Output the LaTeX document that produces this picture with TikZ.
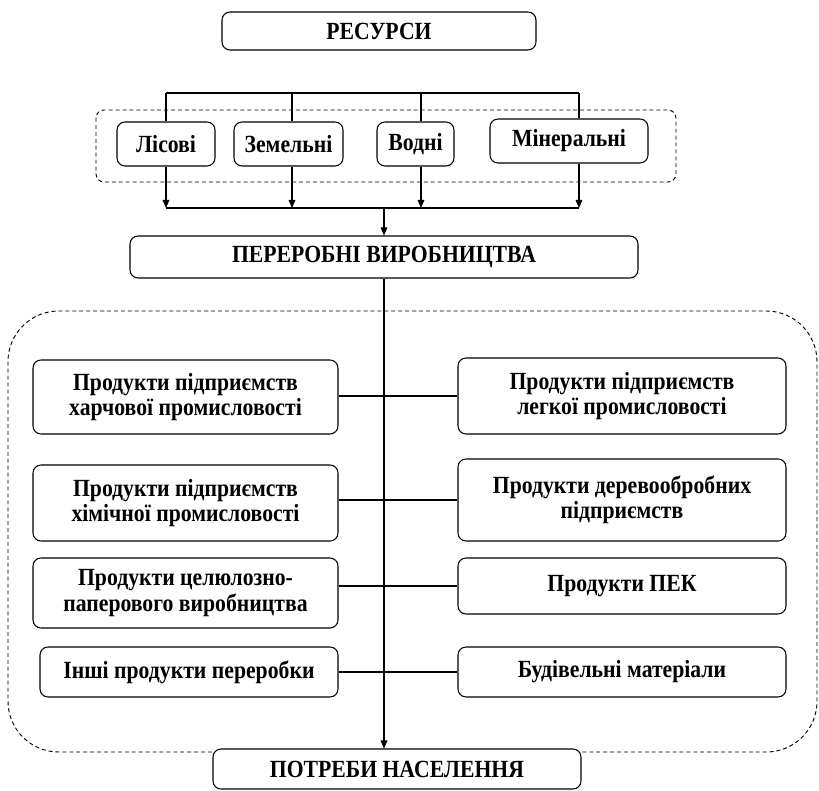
\documentclass[tikz,border=0pt]{standalone}
\usepackage{fontspec}
\setmainfont{Liberation Serif}[FakeStretch=0.88]
\usetikzlibrary{arrows.meta}
\begin{document}
\begin{tikzpicture}
        [x=0.75pt, y=-0.75pt,
        box/.style={draw=black, fill=white, rounded corners=6pt, line width=0.8pt,
            align=center, inner sep=0pt, font=\fontsize{18.5}{19}\selectfont\bfseries},
        line/.style={line width=0.8pt},
        arr/.style={line width=0.8pt, -{Triangle[length=6pt, width=5pt]}},
        group/.style={draw=black, line width=0.7pt, dash pattern=on 3pt off 2.2pt}]
    \useasboundingbox (0,0) rectangle (819,791);
    \draw[group, rounded corners=6pt] (96,110) rectangle (676,182);
    \draw[group, rounded corners=38pt] (8,311) rectangle (817,752);
    \node[box, minimum width=235.5pt, minimum height=28.5pt] (res) at (379,31) {РЕСУРСИ};
    \node[box, minimum width=73.5pt, minimum height=33pt] (les) at (166,144) {Лісові};
    \node[box, minimum width=81.75pt, minimum height=33pt] (zem) at (288.5,144) {Земельні};
    \node[box, minimum width=57.75pt, minimum height=33pt] (vod) at (415.5,144) {Водні};
    \node[box, minimum width=118.5pt, minimum height=33pt] (min) at (569,141) {Мінеральні};
    \node[box, minimum width=381pt, minimum height=31.5pt] (per) at (384,257) {ПЕРЕРОБНІ ВИРОБНИЦТВА};
    \node[box, minimum width=228.75pt, minimum height=55.5pt] (l1) at (185.5,397) {Продукти підприємств\\харчової промисловості};
    \node[box, minimum width=228.75pt, minimum height=57pt] (l2) at (185.5,503) {Продукти підприємств\\хімічної промисловості};
    \node[box, minimum width=228.75pt, minimum height=52.5pt] (l3) at (185.5,593) {Продукти целюлозно-\\паперового виробництва};
    \node[box, minimum width=223.5pt, minimum height=37.5pt] (l4) at (189,672) {Інші продукти переробки};
    \node[box, minimum width=246pt, minimum height=57pt] (r1) at (622,396) {Продукти підприємств\\легкої промисловості};
    \node[box, minimum width=246pt, minimum height=61.5pt] (r2) at (622,500) {Продукти деревообробних\\підприємств};
    \node[box, minimum width=246pt, minimum height=42pt] (r3) at (622,586) {Продукти ПЕК};
    \node[box, minimum width=246pt, minimum height=37.5pt] (r4) at (622,672) {Будівельні матеріали};
    \node[box, minimum width=276pt, minimum height=30pt] (pot) at (397,769) {ПОТРЕБИ НАСЕЛЕННЯ};
    \coordinate (t1) at (166,93);
    \coordinate (t2) at (292,93);
    \coordinate (t3) at (421,93);
    \coordinate (t4) at (579,93);
    \coordinate (b1) at (166,208);
    \coordinate (b2) at (292,208);
    \coordinate (b3) at (421,208);
    \coordinate (b4) at (579,208);
    \draw[line] (t1) -- (t4);
    \draw[line] (t1) -- (t1 |- les.north);
    \draw[line] (t2) -- (t2 |- zem.north);
    \draw[line] (t3) -- (t3 |- vod.north);
    \draw[line] (t4) -- (t4 |- min.north);
    \draw[arr] (b1 |- les.south) -- (b1);
    \draw[arr] (b2 |- zem.south) -- (b2);
    \draw[arr] (b3 |- vod.south) -- (b3);
    \draw[arr] (b4 |- min.south) -- (b4);
    \draw[line] (b1) -- (b4);
    \draw[arr] (per.north |- b1) -- (per.north);
    \draw[line] (l1.east |- r1.west) -- (r1.west);
    \draw[line] (l2.east |- r2.west) -- (r2.west);
    \draw[line] (l3.east |- r3.west) -- (r3.west);
    \draw[line] (l4.east |- r4.west) -- (r4.west);
    \draw[arr] (per.south) -- (per.south |- pot.north);
\end{tikzpicture}
\end{document}
